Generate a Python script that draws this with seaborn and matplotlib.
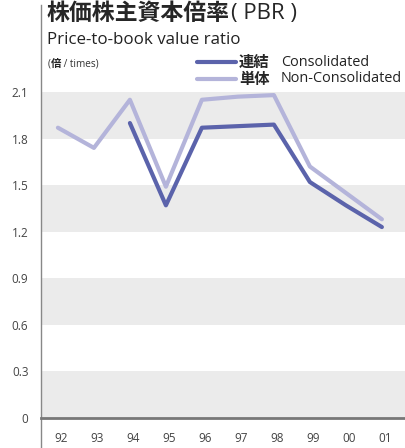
import numpy as np
import pandas as pd
import matplotlib
matplotlib.use("Agg")
import matplotlib.pyplot as plt
import seaborn as sns

# data
years = ["92", "93", "94", "95", "96", "97", "98", "99", "00", "01"]
consolidated = [np.nan, np.nan, 1.90, 1.37, 1.87, 1.88, 1.89, 1.52, 1.37, 1.23]
non_consolidated = [1.87, 1.74, 2.05, 1.49, 2.05, 2.07, 2.08, 1.62, 1.45, 1.28]
y_ticks = [0, 0.3, 0.6, 0.9, 1.2, 1.5, 1.8, 2.1]

dark = "#5b63ab"
light = "#b4b4da"

sns.set_style("white")
plt.rcParams["font.family"] = ["Open Sans", "Noto Sans CJK JP", "DejaVu Sans"]

df = pd.DataFrame({"x": np.arange(len(years)),
                   "連結": consolidated,
                   "単体": non_consolidated})

fig = plt.figure(figsize=(4.06, 4.48), dpi=100)
ax = fig.add_axes([41 / 406, 30 / 448, 365 / 406, 326 / 448])

# alternating bands
for lo, hi in [(0, 0.3), (0.6, 0.9), (1.2, 1.5), (1.8, 2.1)]:
    ax.axhspan(lo, hi, color="#ebebeb", lw=0, zorder=0)

sns.lineplot(data=df, x="x", y="単体", color=light, lw=3.0, ax=ax, zorder=3)
sns.lineplot(data=df, x="x", y="連結", color=dark, lw=3.0, ax=ax, zorder=4)

ax.set_xlim(-0.47, 9.67)
ax.set_ylim(0, 2.1)
ax.set_yticks(y_ticks)
ax.set_yticklabels(["0" if v == 0 else f"{v:.1f}" for v in y_ticks])
ax.set_xticks(np.arange(len(years)) + 0.1)
ax.set_xticklabels(years)
ax.tick_params(axis="both", length=0, labelsize=8.5, colors="#444444")
ax.tick_params(axis="x", pad=10)
ax.tick_params(axis="y", pad=9)
ax.set_xlabel("")
ax.set_ylabel("")

for s in ["top", "right"]:
    ax.spines[s].set_visible(False)
ax.spines["left"].set_color("#888888")
ax.spines["left"].set_linewidth(1.0)
ax.spines["left"].set_bounds(-0.195, 2.66)
ax.spines["bottom"].set_color("#777777")
ax.spines["bottom"].set_linewidth(2.0)

# titles
cjk = ["Noto Sans CJK JP", "DejaVu Sans"]
t = fig.text(47 / 406, 1 - 14 / 448, "株価株主資本倍率", fontsize=16.5, fontweight="bold",
             family=cjk, va="center", ha="left")
fig.canvas.draw()
bb = t.get_window_extent().transformed(fig.transFigure.inverted())
fig.text(bb.x1 + 1 / 406, 1 - 14 / 448, "( PBR )", fontsize=16, family=["Open Sans"],
         va="center", ha="left")
fig.text(47 / 406, 1 - 40 / 448, "Price-to-book value ratio", fontsize=12.2,
         family=["Open Sans"], va="center", ha="left", color="#222222")
p1 = fig.text(48 / 406, 1 - 64 / 448, "(", fontsize=7.2, va="center", ha="left",
              color="#333333")
fig.canvas.draw()
b1 = p1.get_window_extent().transformed(fig.transFigure.inverted())
p2 = fig.text(b1.x1, 1 - 64 / 448, "倍", fontsize=7.5, fontweight="bold", family=cjk,
              va="center", ha="left")
fig.canvas.draw()
b2 = p2.get_window_extent().transformed(fig.transFigure.inverted())
fig.text(b2.x1, 1 - 64 / 448, " / times)", fontsize=7.2, va="center", ha="left",
         color="#333333")

# legend drawn by hand
for i, (name, en, col) in enumerate([("連結", "Consolidated", dark),
                                     ("単体", "Non-Consolidated", light)]):
    yy = 1 - (62 + 17 * i) / 448
    fig.add_artist(plt.Line2D([197 / 406, 236 / 406], [yy, yy], color=col, lw=3.0))
    fig.text(239 / 406, yy, name, fontsize=11, fontweight="bold", family=cjk,
             va="center", ha="left")
    fig.text(281 / 406, yy, en, fontsize=10.4, family=["Open Sans"],
             va="center", ha="left", color="#222222")

fig.savefig("out.png", dpi=100)
